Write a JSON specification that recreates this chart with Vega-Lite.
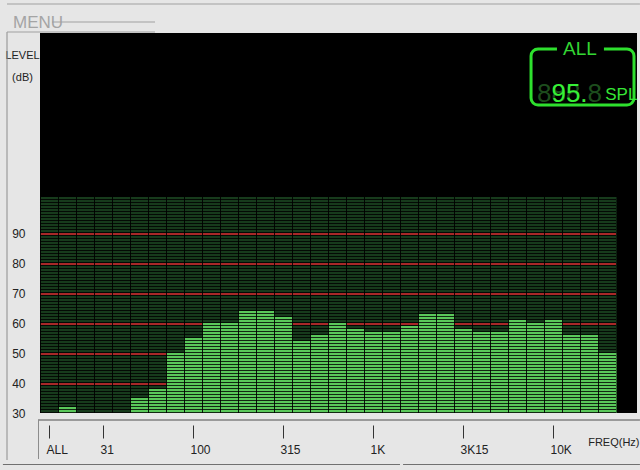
{
  "$schema": "https://vega.github.io/schema/vega-lite/v6.json",
  "width": 597,
  "height": 380,
  "autosize": {"type": "none"},
  "padding": {"left": 40, "top": 33, "right": 3, "bottom": 57},
  "background": "#e6e6e6",
  "view": {"fill": "#000000", "stroke": null},
  "config": {"font": "Liberation Sans, sans-serif"},
  "datasets": {
    "bands": [
      {"i": 0, "band": "ALL", "level": 30},
      {"i": 1, "band": "20", "level": 32},
      {"i": 2, "band": "25", "level": 30},
      {"i": 3, "band": "31.5", "level": 30},
      {"i": 4, "band": "40", "level": 30},
      {"i": 5, "band": "50", "level": 35},
      {"i": 6, "band": "63", "level": 38},
      {"i": 7, "band": "80", "level": 50},
      {"i": 8, "band": "100", "level": 55},
      {"i": 9, "band": "125", "level": 60},
      {"i": 10, "band": "160", "level": 60},
      {"i": 11, "band": "200", "level": 64},
      {"i": 12, "band": "250", "level": 64},
      {"i": 13, "band": "315", "level": 62},
      {"i": 14, "band": "400", "level": 54},
      {"i": 15, "band": "500", "level": 56},
      {"i": 16, "band": "630", "level": 60},
      {"i": 17, "band": "800", "level": 58},
      {"i": 18, "band": "1K", "level": 57},
      {"i": 19, "band": "1.25K", "level": 57},
      {"i": 20, "band": "1.6K", "level": 59},
      {"i": 21, "band": "2K", "level": 63},
      {"i": 22, "band": "2.5K", "level": 63},
      {"i": 23, "band": "3.15K", "level": 58},
      {"i": 24, "band": "4K", "level": 57},
      {"i": 25, "band": "5K", "level": 57},
      {"i": 26, "band": "6.3K", "level": 61},
      {"i": 27, "band": "8K", "level": 60},
      {"i": 28, "band": "10K", "level": 61},
      {"i": 29, "band": "12.5K", "level": 56},
      {"i": 30, "band": "16K", "level": 56},
      {"i": 31, "band": "20K", "level": 50}
    ],
    "marks": [{"v": 40}, {"v": 50}, {"v": 60}, {"v": 70}, {"v": 80}, {"v": 90}],
    "one": [{}]
  },
  "layer": [
    {
      "data": {"name": "bands"},
      "mark": {"type": "bar", "binSpacing": 0, "fill": "#173b1c"},
      "encoding": {
        "x": {"field": "i", "type": "quantitative", "bin": {"step": 1, "extent": [0, 32]},
          "scale": {"domain": [0, 33.1667], "nice": false, "zero": false},
          "axis": {"values": [0.5, 3.5, 8.5, 13.5, 18.5, 23.5, 28.5],
            "labelExpr": "datum.value == 0.5 ? 'ALL' : datum.value == 3.5 ? '31' : datum.value == 8.5 ? '100' : datum.value == 13.5 ? '315' : datum.value == 18.5 ? '1K' : datum.value == 23.5 ? '3K15' : '10K'",
            "grid": false, "domain": false, "offset": 12, "tickSize": 13, "tickColor": "#333333", "tickWidth": 1,
            "labelAlign": "left", "labelOffset": -3, "labelPadding": 6, "labelFontSize": 12, "labelColor": "#222222", "labelOverlap": false, "labelFlush": false, "labelBound": false,
            "title": "FREQ(Hz)", "titleX": 599, "titleY": 20, "titleAlign": "right", "titleBaseline": "alphabetic", "titleFontSize": 11, "titleFontWeight": "normal", "titleColor": "#222222"}},
        "y": {"field": "level", "type": "quantitative",
          "scale": {"domain": [30, 156.6667], "nice": false, "zero": false},
          "axis": {"values": [30, 40, 50, 60, 70, 80, 90],
            "grid": false, "ticks": false, "domain": false, "labelPadding": 15, "labelFontSize": 12, "labelColor": "#222222",
            "title": ["LEVEL", "(dB)"], "titleAngle": 0, "titleX": -18, "titleY": 25, "titleAlign": "center", "titleBaseline": "alphabetic", "titleLineHeight": 22, "titleFontSize": 11, "titleFontWeight": "normal", "titleColor": "#222222"}},
        "y2": {"datum": 102}
      }
    },
    {
      "data": {"name": "marks"},
      "mark": {"type": "rule", "color": "#a82828", "strokeWidth": 2, "yOffset": 1},
      "encoding": {
        "y": {"field": "v", "type": "quantitative"},
        "x": {"datum": 0, "type": "quantitative"},
        "x2": {"datum": 32}
      }
    },
    {
      "data": {"name": "bands"},
      "transform": [{"filter": "datum.level > 30"}],
      "mark": {"type": "bar", "binSpacing": 0, "fill": "#5ac85a"},
      "encoding": {
        "x": {"field": "i", "type": "quantitative", "bin": {"step": 1, "extent": [0, 32]}},
        "y": {"field": "level", "type": "quantitative"},
        "y2": {"datum": 30}
      }
    },
    {"data": {"name": "one"}, "mark": {"type": "rule", "color": "#000000", "opacity": 0.8, "strokeWidth": 576, "strokeDash": [1, 2], "strokeCap": "butt"},
     "encoding": {"x": {"datum": 16, "type": "quantitative"}, "y": {"datum": 30, "type": "quantitative"}, "y2": {"datum": 102}}},
    {"data": {"name": "one"}, "mark": {"type": "rule", "color": "#000000", "opacity": 0.85, "strokeWidth": 216, "strokeDash": [1, 17], "strokeCap": "butt"},
     "encoding": {"x": {"datum": 0, "type": "quantitative"}, "x2": {"datum": 32}, "y": {"datum": 66, "type": "quantitative"}}},
    {"data": {"name": "one"}, "mark": {"type": "rect", "fill": null, "stroke": "#2ee02e", "strokeWidth": 3, "cornerRadius": 7},
     "encoding": {"x": {"datum": 27.28, "type": "quantitative"}, "x2": {"datum": 33.0}, "y": {"datum": 132.67, "type": "quantitative"}, "y2": {"datum": 151.33}}},
    {"data": {"name": "one"}, "mark": {"type": "rect", "fill": "#000000"},
     "encoding": {"x": {"datum": 28.72, "type": "quantitative"}, "x2": {"datum": 31.33}, "y": {"datum": 150.2, "type": "quantitative"}, "y2": {"datum": 152.5}}},
    {"data": {"name": "one"}, "mark": {"type": "text", "text": "ALL", "fontSize": 19, "color": "#33d633", "align": "center", "baseline": "middle"},
     "encoding": {"x": {"datum": 30.0, "type": "quantitative"}, "y": {"datum": 151.5, "type": "quantitative"}}},
    {"data": {"name": "one"}, "mark": {"type": "text", "text": "888.8", "fontSize": 26, "color": "#1d4d1d", "align": "left", "baseline": "alphabetic"},
     "encoding": {"x": {"datum": 27.61, "type": "quantitative"}, "y": {"datum": 133.67, "type": "quantitative"}}},
    {"data": {"name": "one"}, "mark": {"type": "text", "text": "95.", "fontSize": 26, "color": "#36f036", "align": "left", "baseline": "alphabetic", "dx": 14.46},
     "encoding": {"x": {"datum": 27.61, "type": "quantitative"}, "y": {"datum": 133.67, "type": "quantitative"}}},
    {"data": {"name": "one"}, "mark": {"type": "text", "text": "SPL", "fontSize": 17, "color": "#36e636", "align": "left", "baseline": "alphabetic"},
     "encoding": {"x": {"datum": 31.4, "type": "quantitative"}, "y": {"datum": 134.5, "type": "quantitative"}}},
    {"data": {"name": "one"}, "mark": {"type": "text", "text": "MENU", "fontSize": 17, "color": "#a4a4a4", "align": "left", "baseline": "alphabetic", "clip": false},
     "encoding": {"x": {"datum": -1.5, "type": "quantitative"}, "y": {"datum": 158.33, "type": "quantitative"}}},
    {"data": {"name": "one"}, "mark": {"type": "rule", "color": "#8c8c8c", "strokeWidth": 1, "clip": false},
     "encoding": {"x": {"datum": -1.833, "type": "quantitative"}, "y": {"datum": 14.33, "type": "quantitative"}, "y2": {"datum": 157}}},
    {"data": {"name": "one"}, "mark": {"type": "rule", "color": "#9a9a9a", "strokeWidth": 2, "clip": false},
     "encoding": {"x": {"datum": -0.11, "type": "quantitative"}, "x2": {"datum": 33.33}, "y": {"datum": 27.67, "type": "quantitative"}}},
    {"data": {"name": "one"}, "mark": {"type": "rule", "color": "#8c8c8c", "strokeWidth": 1, "clip": false},
     "encoding": {"x": {"datum": -0.083, "type": "quantitative"}, "y": {"datum": 27.67, "type": "quantitative"}, "y2": {"datum": 14.67}}},
    {"data": {"name": "one"}, "mark": {"type": "rule", "color": "#707070", "strokeWidth": 1, "clip": false},
     "encoding": {"x": {"datum": -2.06, "type": "quantitative"}, "x2": {"datum": 20.0}, "y": {"datum": 12.83, "type": "quantitative"}}},
    {"data": {"name": "one"}, "mark": {"type": "rule", "color": "#707070", "strokeWidth": 1, "clip": false},
     "encoding": {"x": {"datum": 20.17, "type": "quantitative"}, "x2": {"datum": 33.33}, "y": {"datum": 12.83, "type": "quantitative"}}},
    {"data": {"name": "one"}, "mark": {"type": "rule", "color": "#a0a0a0", "strokeWidth": 1, "clip": false},
     "encoding": {"x": {"datum": 0.67, "type": "quantitative"}, "x2": {"datum": 6.39}, "y": {"datum": 160.33, "type": "quantitative"}}},
    {"data": {"name": "one"}, "mark": {"type": "rule", "color": "#a0a0a0", "strokeWidth": 1, "clip": false},
     "encoding": {"x": {"datum": -1.833, "type": "quantitative"}, "x2": {"datum": 6.39}, "y": {"datum": 157.0, "type": "quantitative"}}},
    {"data": {"name": "one"}, "mark": {"type": "rule", "color": "#a0a0a0", "strokeWidth": 1, "clip": false},
     "encoding": {"x": {"datum": -1.833, "type": "quantitative"}, "x2": {"datum": 33.33}, "y": {"datum": 166.33, "type": "quantitative"}}}
  ]
}
